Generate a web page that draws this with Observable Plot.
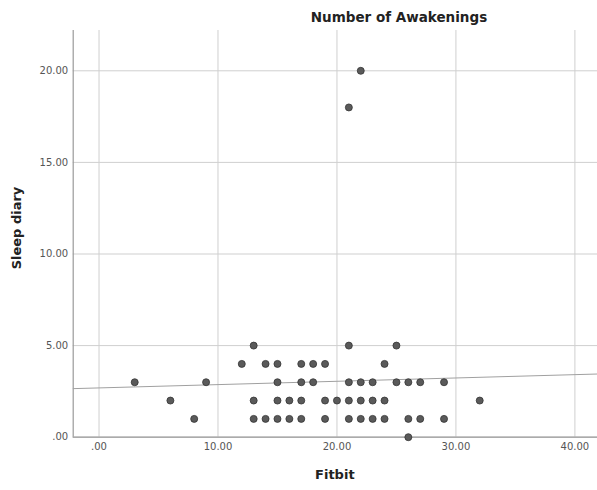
<!DOCTYPE html>
<html><head><meta charset="utf-8">
<script src="https://cdn.jsdelivr.net/npm/d3@7"></script>
<script src="https://cdn.jsdelivr.net/npm/@observablehq/plot@0.6"></script>
<style>
body{margin:0;background:#fff;}
#wrap{position:relative;width:597px;height:490px;font-family:"DejaVu Sans",sans-serif;}
.lbl{position:absolute;font-weight:bold;color:#222;white-space:nowrap;text-align:center;}
#title{top:9px;left:201px;width:396px;font-size:13.5px;line-height:16px;}
#xlab{top:467px;left:72.7px;width:524.3px;font-size:13px;line-height:16px;}
#ylab{top:220px;left:-83.3px;width:200px;font-size:13px;line-height:16px;transform:rotate(-90deg);}
svg{position:absolute;top:0;left:0;}
</style></head><body>
<div id="wrap">
<div class="lbl" id="title">Number of Awakenings</div>
<div class="lbl" id="xlab">Fitbit</div>
<div class="lbl" id="ylab">Sleep diary</div>
</div>
<script>
// Fitbit (x) and Sleep diary (y) values, read row by row
const fitbit = [
  13, 21, 25,
  12, 14, 15, 17, 18, 19, 24,
  3, 9, 15, 17, 18, 21, 22, 23, 25, 26, 27, 29,
  6, 13, 15, 16, 17, 19, 20, 21, 22, 23, 24, 32,
  8, 13, 14, 15, 16, 17, 19, 21, 22, 23, 24, 26, 27, 29,
  26,
  21, 22
];
const diary = [
  5, 5, 5,
  4, 4, 4, 4, 4, 4, 4,
  3, 3, 3, 3, 3, 3, 3, 3, 3, 3, 3, 3,
  2, 2, 2, 2, 2, 2, 2, 2, 2, 2, 2, 2,
  1, 1, 1, 1, 1, 1, 1, 1, 1, 1, 1, 1, 1, 1,
  0,
  18, 20
];
const xTicks = [0, 10, 20, 30, 40];
const yTicks = [0, 5, 10, 15, 20];
const xDomain = [-2.17, 41.9];
const yDomain = [0, 22.2];

const data = fitbit.map((x, i) => ({x, y: diary[i]}));
const mx = d3.mean(fitbit), my = d3.mean(diary);
const slope = d3.sum(data, d => (d.x - mx) * (d.y - my)) / d3.sum(data, d => (d.x - mx) ** 2);
const intercept = my - slope * mx;
const fitLine = xDomain.map(x => ({x, y: intercept + slope * x}));

const fmt = d => d === 0 ? ".00" : d.toFixed(2);

const chart = Plot.plot({
  width: 597, height: 490,
  marginLeft: 72.7, marginRight: 0, marginTop: 30, marginBottom: 53.3,
  style: {fontFamily: "DejaVu Sans, sans-serif", fontSize: "10px", color: "#555", background: "transparent"},
  x: {domain: xDomain, ticks: xTicks, tickFormat: fmt, label: null},
  y: {domain: yDomain, ticks: yTicks, tickFormat: fmt, label: null},
  marks: [
    Plot.gridX(xTicks, {stroke: "#cfcfcf", strokeOpacity: 1}),
    Plot.gridY(yTicks, {stroke: "#cfcfcf", strokeOpacity: 1}),
    Plot.ruleX([xDomain[0]], {stroke: "#9a9a9a", strokeWidth: 1.2}),
    Plot.ruleY([yDomain[0]], {stroke: "#9a9a9a", strokeWidth: 1.2}),
    Plot.axisX(xTicks, {tickSize: 0, tickPadding: 6, tickFormat: fmt, label: null}),
    Plot.axisY(yTicks, {tickSize: 0, tickPadding: 5, tickFormat: fmt, label: null}),
    Plot.line(fitLine, {x: "x", y: "y", stroke: "#a0a0a0", strokeWidth: 1}),
    Plot.dot(data, {x: "x", y: "y", r: 3.5, fill: "#5a5a5a", stroke: "#333", strokeWidth: 0.8})
  ]
});
document.getElementById("wrap").prepend(chart);
</script>
</body></html>
